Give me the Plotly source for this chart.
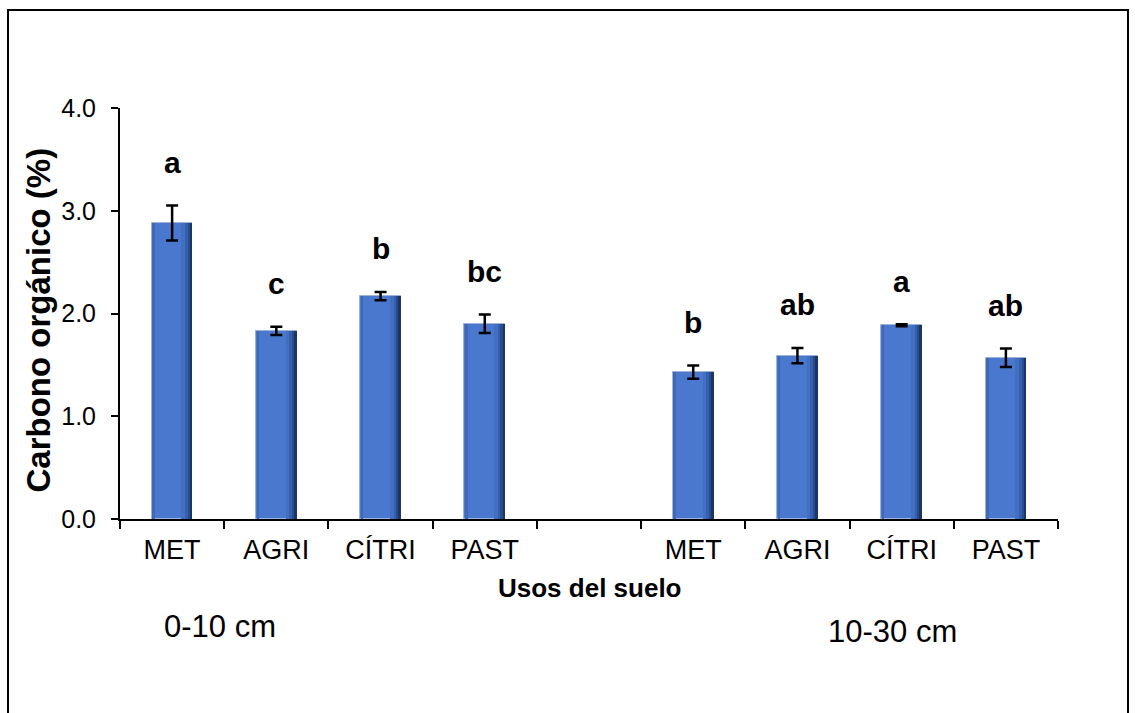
import plotly.graph_objects as go

# ---- data ----
categories = ["MET", "AGRI", "CÍTRI", "PAST", "", "MET", "AGRI", "CÍTRI", "PAST"]
depth_labels = ["0-10 cm", "10-30 cm"]
carbon_0_10 = [2.88, 1.83, 2.17, 1.90]
err_0_10 = [0.17, 0.04, 0.04, 0.09]
letters_0_10 = ["a", "c", "b", "bc"]
carbon_10_30 = [1.43, 1.59, 1.885, 1.57]
err_10_30 = [0.065, 0.075, 0.01, 0.09]
letters_10_30 = ["b", "ab", "a", "ab"]
y_tick_vals = [0.0, 1.0, 2.0, 3.0, 4.0]
y_tick_text = ["0.0", "1.0", "2.0", "3.0", "4.0"]
x_title = "Usos del suelo"
y_title = "Carbono orgánico (%)"

# positions: each category index; the blank category separates groups
x_idx = [i for i, c in enumerate(categories) if c != ""]
values = carbon_0_10 + carbon_10_30
errors = err_0_10 + err_10_30
letters = letters_0_10 + letters_10_30

FONT = "Liberation Sans, Arial, sans-serif"
BAR_W = 0.39

fig = go.Figure()
# main bar body
fig.add_trace(go.Bar(
    x=x_idx, y=values, width=BAR_W, offset=-BAR_W / 2,
    marker=dict(color="#4A78CE", line=dict(color="#9FB3D6", width=1)),
    error_y=dict(type="data", array=errors, visible=True,
                 color="black", thickness=2.5, width=6),
    showlegend=False, hoverinfo="y",
))
# shading strips on the right for a bevelled look
for off, w, col in [(0.09, 0.04, "#4170C2"), (0.125, 0.03, "#3460AD"),
                    (0.15, 0.025, "#284C8C"), (0.17, 0.025, "#1C3563")]:
    fig.add_trace(go.Bar(
        x=x_idx, y=values, width=w, offset=off,
        marker=dict(color=col, line=dict(width=0)),
        showlegend=False, hoverinfo="skip",
    ))
# left thin darker strip
fig.add_trace(go.Bar(
    x=x_idx, y=values, width=0.025, offset=-BAR_W / 2 + 0.005,
    marker=dict(color="#3F69B5", line=dict(width=0)),
    showlegend=False, hoverinfo="skip",
))

# significance letters
for xi, v, e, t in zip(x_idx, values, errors, letters):
    fig.add_annotation(x=xi, y=v + e + 0.42, text=f"<b>{t}</b>", showarrow=False,
                       xref="x", yref="y", xanchor="center", yanchor="middle",
                       font=dict(family=FONT, size=30, color="black"))

# axis titles and depth labels
fig.add_annotation(x=(590 - 120) / 938, y=(519 - 588) / 411, xref="paper", yref="paper",
                   text=f"<b>{x_title}</b>", showarrow=False,
                   xanchor="center", yanchor="middle",
                   font=dict(family=FONT, size=26, color="black"))
fig.add_annotation(x=(37.5 - 120) / 938, y=(519 - 320) / 411, xref="paper", yref="paper",
                   text=f"<b>{y_title}</b>", showarrow=False, textangle=-90,
                   xanchor="center", yanchor="middle",
                   font=dict(family=FONT, size=33, color="black"))
fig.add_annotation(x=(220 - 120) / 938, y=(519 - 626) / 411, xref="paper", yref="paper",
                   text=depth_labels[0], showarrow=False,
                   xanchor="center", yanchor="middle",
                   font=dict(family=FONT, size=31, color="black"))
fig.add_annotation(x=(892 - 120) / 938, y=(519 - 631) / 411, xref="paper", yref="paper",
                   text=depth_labels[1], showarrow=False,
                   xanchor="center", yanchor="middle",
                   font=dict(family=FONT, size=31, color="black"))

# outer frame
fig.add_shape(type="rect", xref="paper", yref="paper",
              x0=(8 - 120) / 938, x1=(1128 - 120) / 938,
              y0=(519 - 730) / 411, y1=(519 - 10) / 411,
              line=dict(color="black", width=2), fillcolor="rgba(0,0,0,0)")

fig.update_layout(
    width=1135, height=713,
    margin=dict(l=120, r=77, t=108, b=194),
    paper_bgcolor="white", plot_bgcolor="white",
    barmode="overlay", bargap=0,
    xaxis=dict(
        range=[-0.5, len(categories) - 0.5],
        tickmode="array", tickvals=list(range(len(categories))), ticktext=categories,
        ticks="", showline=True, linecolor="black", linewidth=2,
        showgrid=False, zeroline=False, ticklabelstandoff=6,
        tickfont=dict(family=FONT, size=27, color="black"),
        minor=dict(ticks="outside", ticklen=8, tickwidth=2, tickcolor="black",
                   tick0=-0.5, dtick=1, showgrid=False),
    ),
    yaxis=dict(
        range=[0, 4], tickmode="array", tickvals=y_tick_vals, ticktext=y_tick_text,
        ticks="outside", ticklen=7, tickwidth=2, tickcolor="black",
        showline=True, linecolor="black", linewidth=2,
        showgrid=False, zeroline=False, ticklabelstandoff=10,
        tickfont=dict(family=FONT, size=25, color="black"),
    ),
)

fig.write_html("out.html")
